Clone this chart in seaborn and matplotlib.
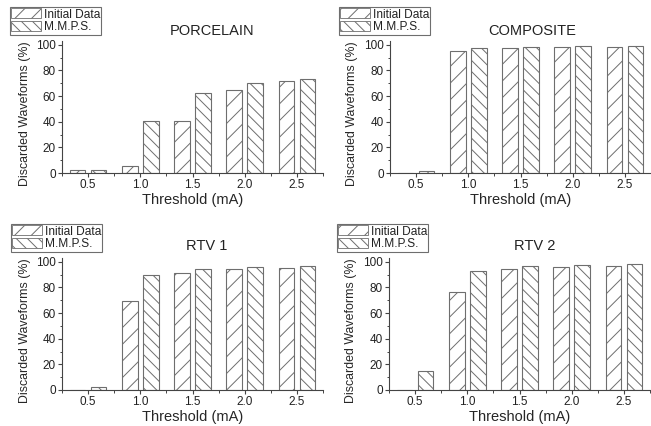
import matplotlib
matplotlib.use("Agg")
import matplotlib.pyplot as plt
from matplotlib.patches import Patch
from matplotlib.ticker import AutoMinorLocator, MultipleLocator
import numpy as np
import pandas as pd
import seaborn as sns

# Threshold levels (mA) and series names
thresholds = [0.5, 1.0, 1.5, 2.0, 2.5]
series = ["Initial Data", "M.M.P.S."]
titles = ["PORCELAIN", "COMPOSITE", "RTV 1", "RTV 2"]

# Discarded waveforms (%) per material
porcelain_initial = [2.2, 5.5, 40.6, 64.6, 71.9]
porcelain_mmps = [2.3, 40.6, 62.2, 70.0, 73.7]
composite_initial = [0.0, 95.0, 97.4, 98.4, 98.2]
composite_mmps = [1.6, 97.7, 98.4, 99.0, 99.0]
rtv1_initial = [0.0, 69.5, 91.4, 94.3, 95.3]
rtv1_mmps = [2.3, 89.6, 94.3, 96.1, 96.9]
rtv2_initial = [0.0, 76.3, 94.3, 96.1, 96.9]
rtv2_mmps = [14.8, 93.2, 96.9, 97.7, 98.2]

panels = [
    (porcelain_initial, porcelain_mmps),
    (composite_initial, composite_mmps),
    (rtv1_initial, rtv1_mmps),
    (rtv2_initial, rtv2_mmps),
]

sns.set_style("ticks")
plt.rcParams["font.family"] = ["Liberation Sans", "DejaVu Sans"]
plt.rcParams["hatch.linewidth"] = 0.7
plt.rcParams["text.color"] = "#222222"

W, H = 651, 426
fig = plt.figure(figsize=(W / 100, H / 100), dpi=100)

edge = "#6e6e6e"
hatches = ["//", "\\\\\\"]
spine_col = "#444444"

# axes boxes in pixels: left, right, top, bottom
boxes = [
    (62, 323, 41, 173),
    (390, 651, 41, 173),
    (62, 323, 258, 390),
    (389, 650, 258, 390),
]
ylabel_x = [25, 352, 25, 351]
title_pos = [(212, 31), (532, 31), (207, 246), (535, 246)]
legend_pos = [(10, 7), (339, 7), (11, 224), (337, 224)]

for i, (init, mmps) in enumerate(panels):
    l, r, t, b = boxes[i]
    ax = fig.add_axes([l / W, 1 - b / H, (r - l) / W, (b - t) / H])
    df = pd.DataFrame({
        "Threshold": thresholds * 2,
        "Value": init + mmps,
        "Series": [series[0]] * len(thresholds) + [series[1]] * len(thresholds),
    })
    sns.barplot(data=df, x="Threshold", y="Value", hue="Series",
                native_scale=True, width=0.8, gap=0.25, errorbar=None,
                palette=["white", "white"], edgecolor=edge, linewidth=0.8,
                legend=False, ax=ax)
    for cont, h in zip(ax.containers, hatches):
        for p in cont:
            p.set_hatch(h)
            p.set_facecolor("white")
            p.set_edgecolor(edge)

    ax.set_xlim(0.25, 2.75)
    ax.set_ylim(0, 103)
    ax.set_xticks(thresholds, labels=[f"{v:.1f}" for v in thresholds])
    ax.xaxis.set_minor_locator(AutoMinorLocator(2))
    ax.yaxis.set_major_locator(MultipleLocator(20))
    ax.yaxis.set_minor_locator(MultipleLocator(10))
    ax.tick_params(which="major", direction="out", length=3, width=0.8,
                   color=spine_col, labelsize=8.5, pad=1.5, labelcolor="#222222")
    ax.tick_params(which="minor", direction="out", length=1.8, width=0.7,
                   color=spine_col)
    for s in ["top", "right"]:
        ax.spines[s].set_visible(False)
    for s in ["left", "bottom"]:
        ax.spines[s].set_color(spine_col)
        ax.spines[s].set_linewidth(0.8)

    ax.set_xlabel("Threshold (mA)", fontsize=10.5)
    ax.set_ylabel("Discarded Waveforms (%)", fontsize=8.9)
    ax.yaxis.set_label_coords((ylabel_x[i] - l) / (r - l), 0.45)
    ax.xaxis.set_label_coords(0.5, -27 / (b - t))
    ax.xaxis.label.set_va("center")
    ax.yaxis.label.set_va("center")

    tx, ty = title_pos[i]
    fig.text(tx / W, 1 - ty / H, titles[i], fontsize=10.5, ha="center", va="center")

    handles = [Patch(facecolor="white", edgecolor=edge, hatch=h, linewidth=0.6)
               for h in hatches]
    lx, ly = legend_pos[i]
    leg = fig.legend(handles, series, loc="upper left",
                     bbox_to_anchor=(lx / W, 1 - ly / H), fontsize=8.6,
                     frameon=True, fancybox=False, framealpha=1,
                     borderpad=0.12, borderaxespad=0, labelspacing=0.05,
                     handlelength=2.5, handleheight=0.9, handletextpad=0.2)
    leg.get_frame().set_edgecolor(edge)
    leg.get_frame().set_linewidth(0.8)
    leg.set_zorder(0)

fig.savefig("out.png", dpi=100)
